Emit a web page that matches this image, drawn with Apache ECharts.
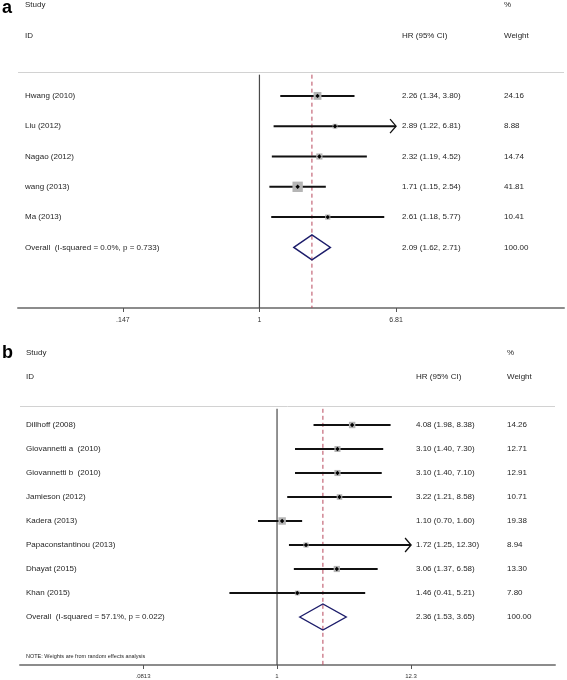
<!DOCTYPE html>
<html><head><meta charset="utf-8">
<script src="https://cdn.jsdelivr.net/npm/echarts/dist/echarts.min.js"></script>
<style>html,body{margin:0;padding:0;background:#fff;}#chart{width:567px;height:680px;}</style>
</head><body><div id="chart"></div>
<script>
// ---------- Panel a data ----------
const studiesA = ['Hwang (2010)', 'Liu (2012)', 'Nagao (2012)', 'wang (2013)', 'Ma (2013)'];
const hrA = [2.26, 2.89, 2.32, 1.71, 2.61];
const loA = [1.34, 1.22, 1.19, 1.15, 1.18];
const hiA = [3.80, 6.81, 4.52, 2.54, 5.77];
const weightA = [24.16, 8.88, 14.74, 41.81, 10.41];
const overallLabelA = 'Overall  (I-squared = 0.0%, p = 0.733)';
const overallA = [2.09, 1.62, 2.71, 100.00]; // est, lo, hi, weight
const ticksA = [0.147, 1, 6.81];
const tickLabelsA = ['.147', '1', '6.81'];

// ---------- Panel b data ----------
const studiesB = ['Dillhoff (2008)', 'Giovannetti a  (2010)', 'Giovannetti b  (2010)', 'Jamieson (2012)',
  'Kadera (2013)', 'Papaconstantinou (2013)', 'Dhayat (2015)', 'Khan (2015)'];
const hrB = [4.08, 3.10, 3.10, 3.22, 1.10, 1.72, 3.06, 1.46];
const loB = [1.98, 1.40, 1.40, 1.21, 0.70, 1.25, 1.37, 0.41];
const hiB = [8.38, 7.30, 7.10, 8.58, 1.60, 12.30, 6.58, 5.21];
const weightB = [14.26, 12.71, 12.91, 10.71, 19.38, 8.94, 13.30, 7.80];
const overallLabelB = 'Overall  (I-squared = 57.1%, p = 0.022)';
const overallB = [2.36, 1.53, 3.65, 100.00];
const ticksB = [0.0813, 1, 12.3];
const tickLabelsB = ['.0813', '1', '12.3'];

// ---------- Header texts ----------
const headLeft = ['Study', 'ID'];
const headHR = ['', 'HR (95% CI)'];
const headW = ['%', 'Weight'];
const noteText = 'NOTE: Weights are from random effects analysis';

const FONT = '"Liberation Sans", Arial, sans-serif';
const TXT = '#262626';

function f2(v) { return v.toFixed(2); }
function hrText(e, l, h) { return f2(e) + ' (' + f2(l) + ', ' + f2(h) + ')'; }
function txt(x, y, s, size) {
  return { type: 'text', x: x, y: y, style: { text: s, fill: TXT, fontSize: size || 8, fontFamily: FONT, align: 'left', verticalAlign: 'middle' } };
}

function makePanel(d, L, gi) {
  const grid = { left: L.left, top: L.top, width: L.right - L.left, height: L.bottom - L.top, containLabel: false, outerBoundsMode: 'none' };
  const tmin = Math.min.apply(null, d.ticks), tmax = Math.max.apply(null, d.ticks);
  const xAxis = {
    type: 'log', gridIndex: gi, min: L.xMin, max: L.xMax, position: 'bottom',
    axisLine: { show: true, onZero: false, lineStyle: { color: '#8c8c8c', width: 2 } },
    axisTick: { show: true, customValues: d.ticks, length: 4, lineStyle: { color: '#555', width: 1 } },
    axisLabel: {
      show: true, customValues: d.ticks, fontSize: L.tickFont, fontFamily: FONT, color: '#333', margin: L.tickMargin,
      formatter: function (v) {
        let best = 0;
        d.ticks.forEach(function (t, i) {
          if (Math.abs(Math.log(t) - Math.log(v)) < Math.abs(Math.log(d.ticks[best]) - Math.log(v))) best = i;
        });
        return d.tickLabels[best];
      }
    },
    splitLine: { show: false }
  };
  const yAxis = { type: 'value', gridIndex: gi, min: 0, max: L.axisRow, inverse: true, show: false };

  const frame = {
    type: 'custom', xAxisIndex: gi, yAxisIndex: gi, silent: true, z: 1,
    data: [[d.overall[0], 0]],
    renderItem: function (params, api) {
      const cs = params.coordSys;
      const y0 = api.coord([1, 0])[1], y1 = api.coord([1, 1])[1];
      const yl = api.coord([1, 2.2])[1];
      const yb = cs.y + cs.height;
      const x1 = api.coord([1, 0])[0];
      const xo = api.coord([d.overall[0], 0])[0];
      const ch = [];
      ch.push(txt(L.nameX, y0, d.headLeft[0]));
      ch.push(txt(L.nameX, y1, d.headLeft[1]));
      ch.push(txt(L.hrX, y1, d.headHR[1]));
      ch.push(txt(L.wX, y0, d.headW[0]));
      ch.push(txt(L.wX, y1, d.headW[1]));
      ch.push({ type: 'line', shape: { x1: cs.x, y1: Math.round(yl) + 0.5, x2: cs.x + cs.width, y2: Math.round(yl) + 0.5 }, style: { stroke: '#d2d2d2', lineWidth: 1 } });
      ch.push({ type: 'line', shape: { x1: x1, y1: yl + 3, x2: x1, y2: yb }, style: { stroke: '#4a4a4a', lineWidth: 1.2 } });
      ch.push({ type: 'line', shape: { x1: xo, y1: yl + 3, x2: xo, y2: yb }, style: { stroke: '#b9485c', lineWidth: 1, lineDash: [4, 3] } });
      return { type: 'group', children: ch };
    }
  };

  const studies = {
    type: 'custom', xAxisIndex: gi, yAxisIndex: gi, silent: true, z: 2,
    data: d.names.map(function (n, i) { return [d.est[i], i + L.firstRow, d.lo[i], d.hi[i], d.w[i]]; }),
    renderItem: function (params, api) {
      const i = params.dataIndex;
      const est = api.value(0), row = api.value(1), lo = api.value(2), hi = api.value(3), w = api.value(4);
      const p = api.coord([est, row]);
      const y = p[1], xe = p[0];
      const xl = api.coord([Math.max(lo, tmin), row])[0];
      const xh = api.coord([Math.min(hi, tmax), row])[0];
      const ch = [];
      ch.push({ type: 'line', shape: { x1: xl, y1: y, x2: xh, y2: y }, style: { stroke: '#111', lineWidth: 2 } });
      if (hi >= tmax) {
        ch.push({ type: 'polyline', shape: { points: [[xh - 6, y - 7], [xh, y], [xh - 6, y + 7]] }, style: { stroke: '#111', lineWidth: 1.3, fill: null } });
      }
      const s = L.boxK * Math.sqrt(w);
      ch.push({ type: 'rect', shape: { x: xe - s / 2, y: y - s / 2, width: s, height: s }, style: { fill: '#b5b5b5' } });
      ch.push({ type: 'polygon', shape: { points: [[xe - 2.2, y], [xe, y - 2.2], [xe + 2.2, y], [xe, y + 2.2]] }, style: { fill: '#000' } });
      ch.push(txt(L.nameX, y, d.names[i]));
      ch.push(txt(L.hrX, y, hrText(d.est[i], d.lo[i], d.hi[i])));
      ch.push(txt(L.wX, y, f2(d.w[i])));
      return { type: 'group', children: ch };
    }
  };

  const overall = {
    type: 'custom', xAxisIndex: gi, yAxisIndex: gi, silent: true, z: 3,
    data: [[d.overall[0], L.firstRow + d.names.length, d.overall[1], d.overall[2], d.overall[3]]],
    renderItem: function (params, api) {
      const est = api.value(0), row = api.value(1), lo = api.value(2), hi = api.value(3), w = api.value(4);
      const pc = api.coord([est, row]);
      const y = pc[1];
      const xl = api.coord([lo, row])[0], xh = api.coord([hi, row])[0];
      const h = L.diamondHalf;
      const ch = [];
      ch.push({ type: 'polygon', shape: { points: [[xl, y], [pc[0], y - h], [xh, y], [pc[0], y + h]] }, style: { stroke: '#1c1c6a', lineWidth: 1.4, fill: null } });
      ch.push(txt(L.nameX, y, d.overallLabel));
      ch.push(txt(L.hrX, y, hrText(est, lo, hi)));
      ch.push(txt(L.wX, y, f2(w)));
      return { type: 'group', children: ch };
    }
  };
  return { grid: grid, xAxis: xAxis, yAxis: yAxis, series: [frame, studies, overall] };
}

const dataA = { names: studiesA, est: hrA, lo: loA, hi: hiA, w: weightA, overall: overallA, overallLabel: overallLabelA,
  ticks: ticksA, tickLabels: tickLabelsA, headLeft: headLeft, headHR: headHR, headW: headW };
const dataB = { names: studiesB, est: hrB, lo: loB, hi: hiB, w: weightB, overall: overallB, overallLabel: overallLabelB,
  ticks: ticksB, tickLabels: tickLabelsB, headLeft: headLeft, headHR: headHR, headW: headW };

const layoutA = { left: 18, right: 564, top: 5, bottom: 308, axisRow: 10, firstRow: 3, xMin: 0.0337, xMax: 72.0,
  nameX: 25, hrX: 402, wX: 504, boxK: 1.6, diamondHalf: 12.5, tickFont: 7, tickMargin: 9 };
const layoutB = { left: 20, right: 555, top: 353, bottom: 665, axisRow: 13, firstRow: 3, xMin: 0.00813, xMax: 182,
  nameX: 26, hrX: 416, wX: 507, boxK: 1.7, diamondHalf: 13, tickFont: 6, tickMargin: 8 };

const pa = makePanel(dataA, layoutA, 0);
const pb = makePanel(dataB, layoutB, 1);

const chart = echarts.init(document.getElementById('chart'), null, { renderer: 'canvas' });
chart.setOption({
  animation: false,
  backgroundColor: '#ffffff',
  grid: [pa.grid, pb.grid],
  xAxis: [pa.xAxis, pb.xAxis],
  yAxis: [pa.yAxis, pb.yAxis],
  series: pa.series.concat(pb.series),
  graphic: [
    { type: 'text', left: 2, top: -1, style: { text: 'a', fontSize: 18, fontWeight: 'bold', fontFamily: FONT, fill: '#000' } },
    { type: 'text', left: 2, top: 344, style: { text: 'b', fontSize: 18, fontWeight: 'bold', fontFamily: FONT, fill: '#000' } },
    { type: 'text', left: 26, top: 653, style: { text: noteText, fontSize: 5.5, fontFamily: FONT, fill: TXT } }
  ]
});
</script>
</body></html>
